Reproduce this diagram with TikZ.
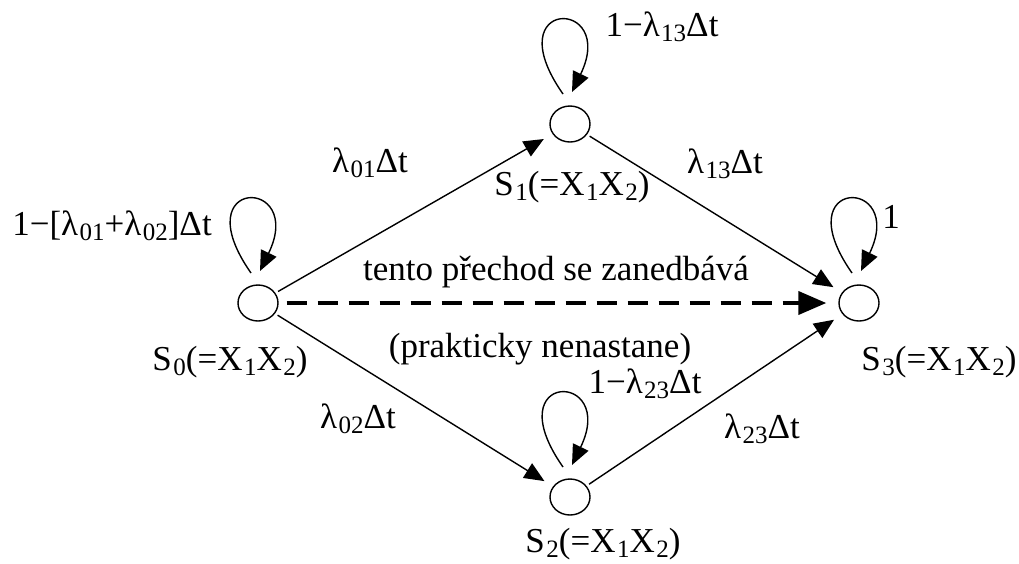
\documentclass[tikz,border=0pt]{standalone}
\usepackage{fontspec}
\setmainfont{Liberation Serif}
\usetikzlibrary{arrows.meta,shapes.geometric}
\newcommand{\lo}[1]{\kern1.5pt\raisebox{-5pt}{\fontsize{25}{25}\selectfont #1}}
\begin{document}
\begin{tikzpicture}[x=1pt,y=-1pt,
  every node/.style={inner sep=0pt},
  state/.style={draw, ellipse, minimum width=40pt, minimum height=36pt, line width=1.4pt},
  lbl/.style={font=\fontsize{35}{42}\selectfont, anchor=base},
  arr/.style={-{Triangle[length=20pt,width=17pt]}, line width=1.4pt},
  trans/.style={arr, shorten <=3pt, shorten >=10pt},
  neglected/.style={-{Triangle[length=28pt,width=23pt]}, line width=4pt,
    dash pattern=on 20pt off 11pt, shorten <=8pt, shorten >=12pt}]
\useasboundingbox (0,0) rectangle (1019,563);

% states
\node[state] (S0) at (258,303) {};
\node[state] (S1) at (570,124) {};
\node[state] (S2) at (570,497) {};
\node[state] (S3) at (859,303) {};

% state labels
\node[lbl] (L0) at (230,370) {S\lo{0}(=X\lo{1}X\lo{2})};
\node[lbl] (L1) at (572,195) {S\lo{1}(=X\lo{1}X\lo{2})};
\node[lbl] (L2) at (603,552) {S\lo{2}(=X\lo{1}X\lo{2})};
\node[lbl] (L3) at (939,370) {S\lo{3}(=X\lo{1}X\lo{2})};

% transitions
\draw[trans] (S0) -- (S1);
\draw[trans] (S0) -- (S2);
\draw[trans] (S1) -- (S3);
\draw[trans] (S2) -- (S3);
\draw[neglected] (S0) -- (S3);

% self loops
\foreach \s in {S0,S1,S2,S3}{
  \draw[arr] ([shift={(-7,-30)}]\s.center)
    .. controls ([shift={(-75,-127)}]\s.center) and ([shift={(48,-127)}]\s.center)
    .. ([shift={(2,-32)}]\s.center);
}

% transition labels
\node[lbl] (t01) at (370,172) {λ\lo{01}Δt};
\node[lbl] (t13) at (725,173) {λ\lo{13}Δt};
\node[lbl] (t02) at (358,428) {λ\lo{02}Δt};
\node[lbl] (t23) at (762,438) {λ\lo{23}Δt};
\node[lbl] (p00) at (112,235) {1−[λ\lo{01}+λ\lo{02}]Δt};
\node[lbl] (p11) at (662,36) {1−λ\lo{13}Δt};
\node[lbl] (p22) at (645,393) {1−λ\lo{23}Δt};
\node[lbl] (p33) at (891,228) {1};
\node[lbl] (n1) at (556,280) {tento přechod se zanedbává};
\node[lbl] (n2) at (540,357) {(prakticky nenastane)};
\end{tikzpicture}
\end{document}
